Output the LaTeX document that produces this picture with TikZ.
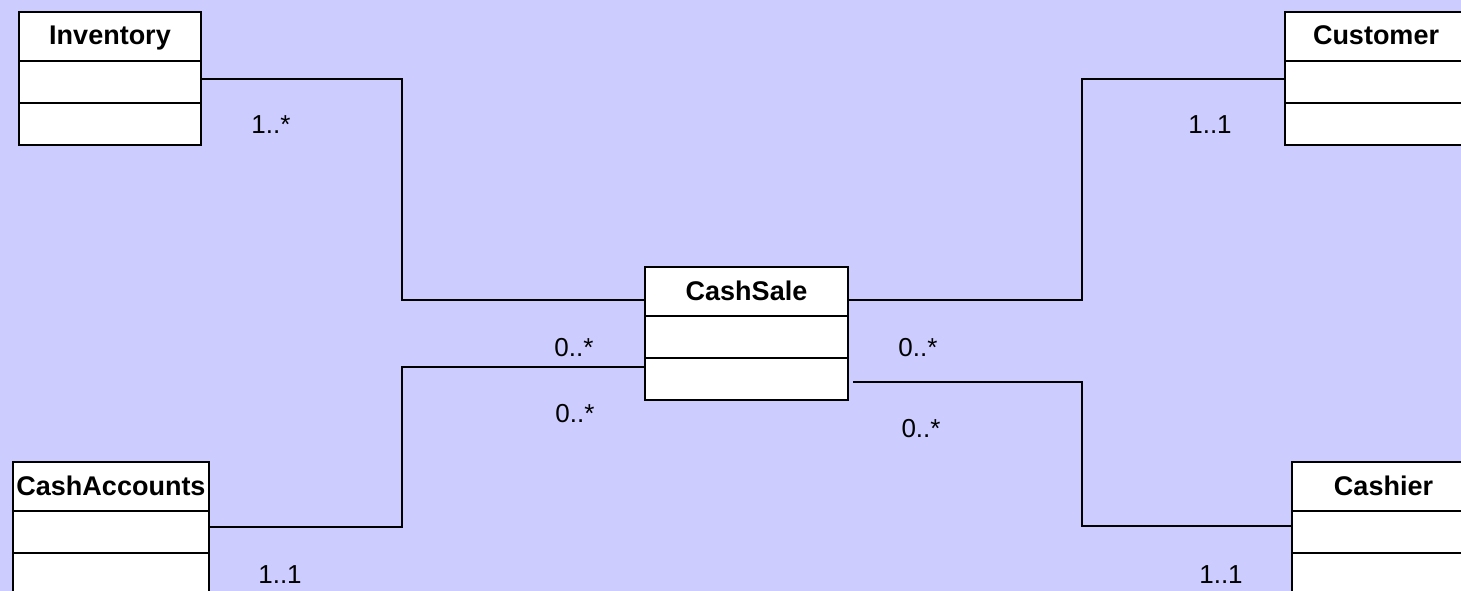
\documentclass[tikz,border=0pt]{standalone}
\usepackage{fontspec}
\setmainfont{Liberation Sans}
\usetikzlibrary{calc}
\definecolor{bg}{HTML}{CCCCFF}
\newcommand\umlclass[5]{%
  \node[classbox, minimum width=#4] (#1) at (#2,#3) {};
  \node[classtitle] (#1-t) at ($(#1.north)+(0,33)$) {#5};
  \draw[line width=2pt] ($(#1.north west)+(0,49)$) -- ($(#1.north east)+(0,49)$);
  \draw[line width=2pt] ($(#1.north west)+(0,91)$) -- ($(#1.north east)+(0,91)$);
}
\begin{document}
\begin{tikzpicture}[x=1pt,y=-1pt,
  classbox/.style={draw, line width=2pt, fill=white, anchor=north west, minimum height=133pt, inner sep=0pt, outer sep=0pt},
  classtitle/.style={font=\bfseries\fontsize{27}{31}\selectfont, inner sep=0pt, anchor=base},
  mult/.style={font=\fontsize{26}{30}\selectfont, inner sep=0pt, anchor=base},
  conn/.style={line width=1.3pt}]
\fill[bg] (0,0) rectangle (1461,591);
\useasboundingbox (0,0) rectangle (1461,591);

\umlclass{inv}{19}{12}{182pt}{Inventory}
\umlclass{cust}{1285}{12}{182pt}{Customer}
\umlclass{cs}{645}{267}{203pt}{CashSale}
\umlclass{ca}{13}{462}{196pt}{CashAccounts}
\umlclass{cash}{1292}{462}{183pt}{Cashier}

\draw[conn] ($(inv.north east)+(0,67)$) -| (402,190) |- ($(cs.north west)+(0,33)$);
\draw[conn] ($(cs.north east)+(0,33)$) -| (1082,190) |- ($(cust.north west)+(0,67)$);
\draw[conn] ($(cs.north west)+(0,100)$) -| (402,450) |- ($(ca.north east)+(0,65)$);
\draw[conn] ($(cs.north east)+(5,115)$) -| (1082,450) |- ($(cash.north west)+(0,64)$);

\node[mult] (m1) at (271,133) {1..*};
\node[mult] (m2) at (1210,133) {1..1};
\node[mult] (m3) at (574,356) {0..*};
\node[mult] (m4) at (575,422) {0..*};
\node[mult] (m5) at (918,356) {0..*};
\node[mult] (m6) at (921,437) {0..*};
\node[mult] (m7) at (280,583) {1..1};
\node[mult] (m8) at (1221,583) {1..1};
\end{tikzpicture}
\end{document}
